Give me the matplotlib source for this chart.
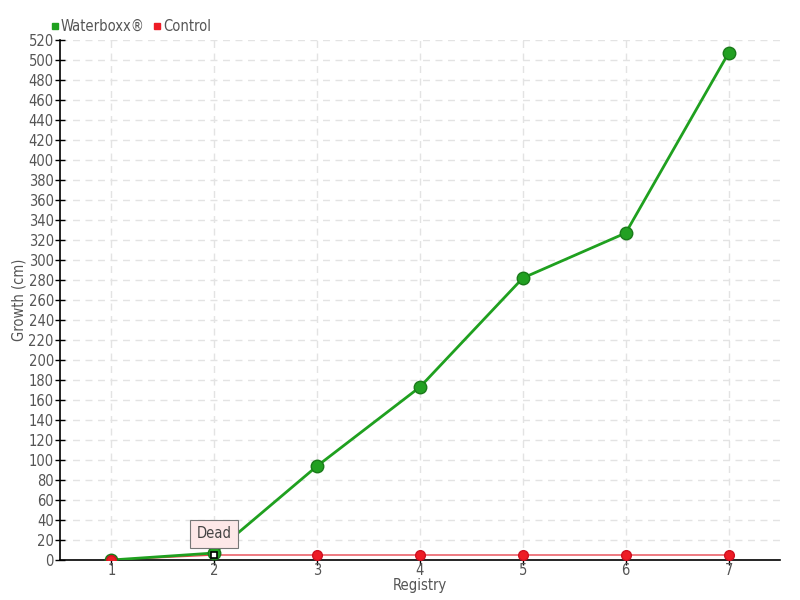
import matplotlib
matplotlib.use("Agg")
import matplotlib.pyplot as plt
from matplotlib.lines import Line2D

registry = [1, 2, 3, 4, 5, 6, 7]
waterboxx = [0, 7, 94, 173, 282, 327, 507]
control = [0, 5, 5, 5, 5, 5, 5]
dead_index = 1  # control plant dead at registry 2

plt.rcParams.update({
    "font.family": ["DejaVu Sans"],
    "font.stretch": "condensed",
    "font.size": 10,
    "text.color": "#555555",
    "axes.labelcolor": "#555555",
})

fig = plt.figure(figsize=(8, 6), dpi=100)
ax = fig.add_axes([60 / 800, 40 / 600, 720 / 800, 520 / 600])

ax.plot(registry, control, color="#e8454f", linewidth=1.0, zorder=2)
ax.plot(registry, waterboxx, color="#1fa01f", linewidth=2.0, zorder=3)
ax.plot(registry, waterboxx, linestyle="none", marker="o", markersize=9,
        markerfacecolor="#22a022", markeredgecolor="#1a7a1a", zorder=4)

alive = [i for i in range(len(registry)) if i != dead_index]
ax.plot([registry[i] for i in alive], [control[i] for i in alive],
        linestyle="none", marker="o", markersize=7,
        markerfacecolor="#ee1c25", markeredgecolor="#d01020", zorder=5)
ax.plot(registry[dead_index], control[dead_index], linestyle="none",
        marker="s", markersize=5, markerfacecolor="white",
        markeredgecolor="black", markeredgewidth=1.2, zorder=6)

ax.annotate("Dead", xy=(registry[dead_index], control[dead_index] + 6),
            xytext=(registry[dead_index], 26), ha="center", va="center",
            fontsize=10.5, color="#444444",
            bbox=dict(boxstyle="square,pad=0.45", fc="#fde8e8", ec="#777777", lw=0.8),
            zorder=7)

ax.set_xlim(0.5, 7.5)
ax.set_ylim(0, 520)
ax.set_xticks(registry)
ax.set_yticks(range(0, 521, 20))
ax.grid(True, linestyle=(0, (5, 4)), color="#e3e3e3", linewidth=1)
ax.set_axisbelow(True)
for s in ["top", "right"]:
    ax.spines[s].set_visible(False)
ax.spines["left"].set_linewidth(1.2)
ax.spines["bottom"].set_linewidth(1.2)
ax.tick_params(direction="inout", length=7, width=1, colors="black",
               labelcolor="#555555", labelsize=10.5, pad=1)
ax.tick_params(axis="x", pad=-1)
ax.set_xlabel("Registry", fontsize=10.5, labelpad=0)
ax.set_ylabel("Growth (cm)", fontsize=10.5, labelpad=0)
ax.yaxis.set_label_coords(-33 / 720, 0.5)

handles = [
    Line2D([], [], linestyle="none", marker="s", markersize=5,
           markerfacecolor="#1fa01f", markeredgecolor="#1fa01f"),
    Line2D([], [], linestyle="none", marker="s", markersize=5,
           markerfacecolor="#ee1c25", markeredgecolor="#ee1c25"),
]
fig.legend(handles, ["Waterboxx®", "Control"], loc="upper left",
           bbox_to_anchor=(44 / 800, 1 - 13 / 600), ncol=2, frameon=False,
           fontsize=10.5, handletextpad=0.05, columnspacing=0.5,
           borderaxespad=0, handlelength=0.7)

fig.savefig("out.png", dpi=100)
